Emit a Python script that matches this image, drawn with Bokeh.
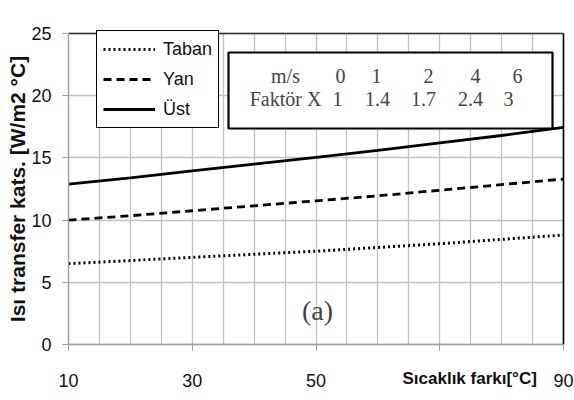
from bokeh.plotting import figure
from bokeh.models import (Label, BoxAnnotation, Legend, LegendItem, FixedTicker,
                          ColumnDataSource, Range1d, Grid)
from bokeh.embed import file_html
from bokeh.resources import INLINE
import math

# ---- data ----
temp_diff = [10, 20, 30, 40, 50, 60, 70, 80, 90]
taban = [6.5, 6.75, 7.0, 7.25, 7.5, 7.8, 8.1, 8.45, 8.8]
yan = [10.0, 10.35, 10.75, 11.15, 11.55, 11.95, 12.4, 12.85, 13.3]
ust = [12.9, 13.4, 13.95, 14.5, 15.05, 15.6, 16.2, 16.8, 17.45]

x_ticks = [10, 30, 50, 70, 90]
x_grid_ticks = list(range(10, 91, 5))
y_ticks = [0, 5, 10, 15, 20, 25]

speed_header = "m/s"
factor_header = "Faktör X"
speeds = ["0", "1", "2", "4", "6"]
factors = ["1", "1.4", "1.7", "2.4", "3"]

y_label = "Isı transfer kats. [W/m2 °C]"
x_label = "Sıcaklık farkı[°C]"
panel_tag = "(a)"

# ---- layout (pixels) ----
W, H = 574, 400
FL, FR, FT, FB = 68, 563, 33, 344          # plot-area edges
XMIN, XMAX, YMIN, YMAX = 10, 90, 0, 25
kx = (FR - FL) / (XMAX - XMIN)
ky = (FB - FT) / (YMAX - YMIN)

SANS = "Liberation Sans"
SERIF = "Liberation Serif"

src = ColumnDataSource(dict(x=temp_diff, taban=taban, yan=yan, ust=ust))

p = figure(width=W, height=H,
           x_range=Range1d(XMIN - FL / kx, XMAX + (W - FR) / kx),
           y_range=Range1d(YMIN - (H - FB) / ky, YMAX + FT / ky),
           output_backend="svg", toolbar_location=None,
           min_border=0)
p.outline_line_color = None
p.background_fill_color = "white"
p.border_fill_color = "white"

# grids
p.xgrid.ticker = FixedTicker(ticks=x_grid_ticks)
p.xgrid.bounds = (XMIN, XMAX)
p.xgrid.cross_bounds = (YMIN, YMAX)
p.ygrid.ticker = FixedTicker(ticks=y_ticks)
p.ygrid.bounds = (YMIN, YMAX)
p.ygrid.cross_bounds = (XMIN, XMAX)
for g in (p.xgrid, p.ygrid):
    g.grid_line_color = "#c2c2c2"
    g.grid_line_width = 1.3
    g.grid_line_alpha = 1.0

# frame top and right edges
p.add_layout(Grid(dimension=1, ticker=FixedTicker(ticks=[YMAX]), bounds=(YMIN, YMAX),
                  cross_bounds=(XMIN, XMAX), grid_line_color="#333333", grid_line_width=1.3))
p.add_layout(Grid(dimension=0, ticker=FixedTicker(ticks=[XMAX]), bounds=(XMIN, XMAX),
                  cross_bounds=(YMIN, YMAX), grid_line_color="#000000", grid_line_width=1.6))

# axes drawn at fixed data locations
p.xaxis.fixed_location = YMIN
p.yaxis.fixed_location = XMIN
p.xaxis.bounds = (XMIN, XMAX)
p.yaxis.bounds = (YMIN, YMAX)
p.xaxis.ticker = FixedTicker(ticks=x_ticks, minor_ticks=[])
p.xaxis.major_label_overrides = {70: ""}
p.yaxis.ticker = FixedTicker(ticks=y_ticks, minor_ticks=[])
for ax in (p.xaxis, p.yaxis):
    ax.axis_line_color = "#a0a0a0"
    ax.axis_line_width = 1.3
    ax.major_tick_line_color = "#a0a0a0"
    ax.major_tick_out = 6
    ax.major_tick_in = 0
    ax.minor_tick_line_color = None
    ax.major_label_text_font = SANS
    ax.major_label_text_font_size = "18px"
    ax.major_label_text_color = "#111111"
p.xaxis.major_label_standoff = 23
p.yaxis.major_label_standoff = 11

r_t = p.line("x", "taban", source=src, line_color="black", line_width=3.0, line_dash="2 3")
r_y = p.line("x", "yan", source=src, line_color="black", line_width=2.8, line_dash="8 5")
r_u = p.line("x", "ust", source=src, line_color="black", line_width=2.8)

legend = Legend(items=[LegendItem(label="Taban", renderers=[r_t]),
                       LegendItem(label="Yan", renderers=[r_y]),
                       LegendItem(label="Üst", renderers=[r_u])],
                location=(96, H - 128), padding=6, spacing=6, margin=0,
                label_height=24, glyph_height=24, glyph_width=52, label_standoff=8,
                label_text_font=SANS, label_text_font_size="18px",
                label_text_color="#111111",
                border_line_color="black", border_line_width=1.3, border_line_alpha=1.0,
                background_fill_color="white", background_fill_alpha=1.0)
p.add_layout(legend)

# table box
p.add_layout(BoxAnnotation(left=228, right=552, top=H - 52, bottom=H - 128,
                           left_units="screen", right_units="screen",
                           top_units="screen", bottom_units="screen",
                           fill_color="white", fill_alpha=1.0,
                           line_color="black", line_alpha=1.0, line_width=2.2))
row1_y, row2_y = H - 75, H - 98.5
head_x = 285
col1_x = [340, 376, 428, 475, 517]
col2_x = [337, 377, 423, 470, 508]
cells = [(speed_header, head_x, row1_y), (factor_header, head_x, row2_y)]
cells += [(t, xx, row1_y) for t, xx in zip(speeds, col1_x)]
cells += [(t, xx, row2_y) for t, xx in zip(factors, col2_x)]
for txt, xx, yy in cells:
    p.add_layout(Label(x=xx, y=yy, x_units="screen", y_units="screen", text=txt,
                       text_font=SERIF, text_font_size="20px",
                       text_align="center", text_baseline="middle"))

p.add_layout(Label(x=317, y=H - 310, x_units="screen", y_units="screen", text=panel_tag,
                   text_font=SERIF, text_font_size="28px",
                   text_align="center", text_baseline="middle"))

# axis titles
p.add_layout(Label(x=17, y=H - (FT + FB) / 2, x_units="screen", y_units="screen", text=y_label,
                   angle=math.pi / 2, text_font=SANS, text_font_style="bold",
                   text_font_size="21px", text_align="center", text_baseline="middle",
                   text_color="#111111"))
p.add_layout(Label(x=402, y=H - 378, x_units="screen", y_units="screen", text=x_label,
                   text_font=SANS, text_font_style="bold",
                   text_font_size="17px", text_align="left", text_baseline="middle",
                   text_color="#111111"))

open("out.html", "w").write(file_html(p, INLINE))
